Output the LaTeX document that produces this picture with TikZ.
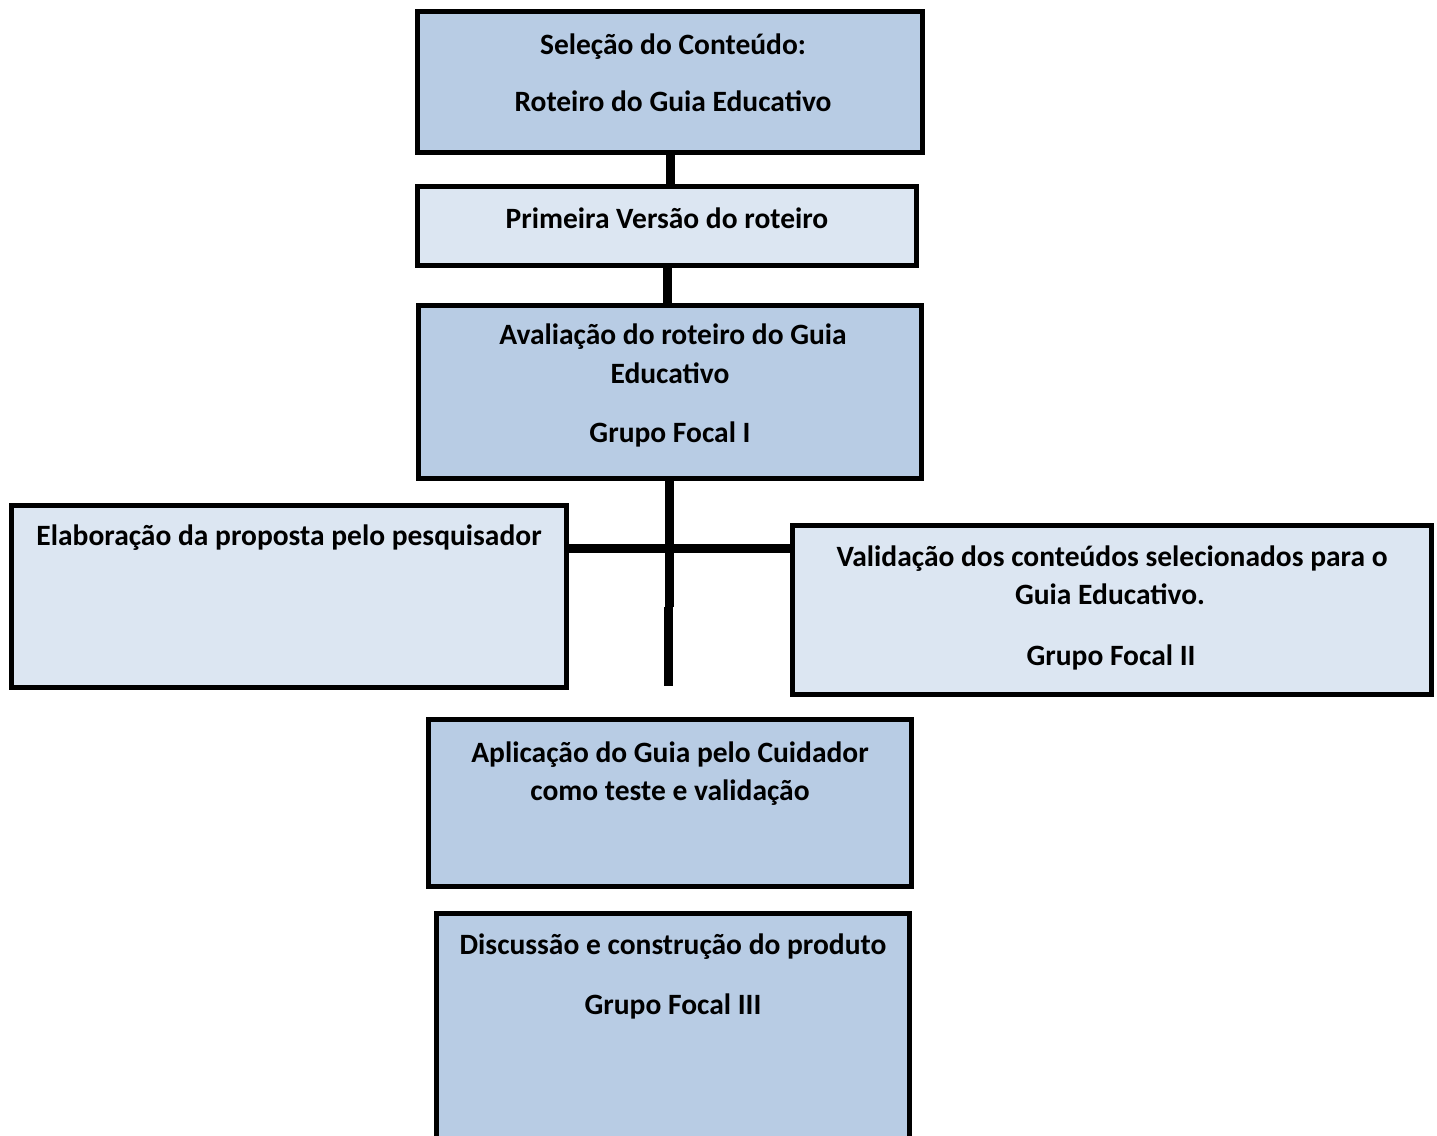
\documentclass[tikz,border=0pt]{standalone}
\usepackage{fontspec}
\setmainfont{Carlito}
\definecolor{darkbox}{HTML}{B8CCE4}
\definecolor{lightbox}{HTML}{DCE6F2}
\tikzset{
  box/.style={draw=black, line width=5pt, rectangle, inner sep=0pt},
  dbox/.style={box, fill=darkbox},
  lbox/.style={box, fill=lightbox},
  conn/.style={line width=9pt, black},
  txt/.style={anchor=base, inner sep=0pt, font=\fontsize{29.5}{35}\selectfont\bfseries}
}
\begin{document}
\begin{tikzpicture}[x=1pt, y=-1pt]
\useasboundingbox (0,0) rectangle (1437,1135);
\clip (0,0) rectangle (1437,1135);
% boxes
\node[dbox, minimum width=505pt, minimum height=141pt] (b1) at (670,82) {};
\node[lbox, minimum width=499pt, minimum height=79pt] (b2) at (667,226) {};
\node[dbox, minimum width=503pt, minimum height=173pt] (b3) at (670,392) {};
\node[lbox, minimum width=555pt, minimum height=182pt] (bl) at (289,596.5) {};
\node[lbox, minimum width=639pt, minimum height=169pt] (br) at (1112,610) {};
\node[dbox, minimum width=483pt, minimum height=167pt] (b5) at (670,803) {};
\node[dbox, minimum width=473pt, minimum height=236pt] (b6) at (673,1031.5) {};
\coordinate (j1) at (669.5,607);
\coordinate (e) at (668,686);
\coordinate (h) at (0,548);
% connectors
\draw[conn] (b1.south) -- (b1.south |- b2.north);
\draw[conn] (b2.south) -- (b2.south |- b3.north);
\draw[conn] (b3.south -| j1) -- (j1);
\draw[conn] (e |- j1) -- (e);
\draw[conn] (bl.east |- h) -- (br.west |- h);
% texts
\node[txt] (t1a) at (673,54) {Seleção do Conteúdo:};
\node[txt] (t1b) at (673,111) {Roteiro do Guia Educativo};
\node[txt] (t2a) at (667,228) {Primeira Versão do roteiro};
\node[txt] (t3a) at (673,344) {Avaliação do roteiro do Guia};
\node[txt] (t3b) at (670,383) {Educativo};
\node[txt] (t3c) at (670,442) {Grupo Focal I};
\node[txt] (tla) at (289,545) {Elaboração da proposta pelo pesquisador};
\node[txt] (tra) at (1112,566) {Validação dos conteúdos selecionados para o};
\node[txt] (trb) at (1110,604) {Guia Educativo.};
\node[txt] (trc) at (1111,665) {Grupo Focal II};
\node[txt] (t5a) at (670,762) {Aplicação do Guia pelo Cuidador};
\node[txt] (t5b) at (670,800) {como teste e validação};
\node[txt] (t6a) at (673,954) {Discussão e construção do produto};
\node[txt] (t6b) at (673,1014) {Grupo Focal III};
\end{tikzpicture}
\end{document}
